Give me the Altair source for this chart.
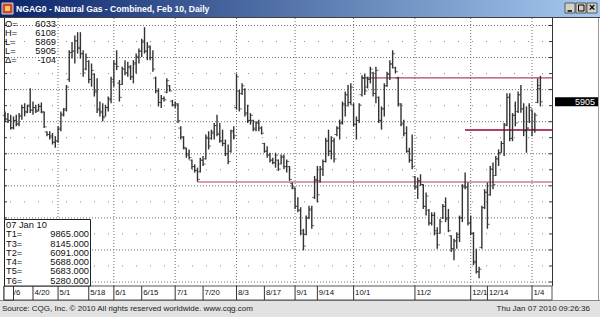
import altair as alt
import pandas as pd

# ---------------- data ----------------
highs = [5830,5817,5804,5791,5804,5817,5882,5894,5882,6010,
         5907,5882,5890,5900,5830,5675,5675,5662,5637,5714,
         5830,5856,6036,6307,6371,6423,6448,6448,6307,6281,
         6230,6204,6126,6088,5907,5894,5882,5946,6101,6230,
         6307,6075,6178,6230,6217,6191,6230,6281,6320,6397,
         6487,6371,6345,6307,6101,6010,5959,5946,6088,6036,
         5920,5907,5894,5714,5637,5547,5534,5456,5418,5392,
         5469,5482,5650,5675,5688,5740,5804,5740,5688,5611,
         5572,5688,5714,6126,5997,6049,6010,5882,5817,5766,
         5753,5766,5714,5585,5559,5508,5469,5508,5456,5495,
         5495,5456,5405,5276,5237,5160,5083,4915,5018,5095,
         5095,5327,5405,5405,5456,5624,5688,5637,5624,5714,
         5766,5907,5985,6036,6049,5894,5791,5894,6113,6126,
         6101,6178,6139,6178,5946,5869,6049,6139,6229,6307,
         6178,6101,5894,5766,5714,5547,5650,5327,5315,5340,
         5263,5198,5070,5044,5044,4928,4992,5108,5160,5070,
         4864,4838,4889,5018,5263,5353,5276,5018,4889,4760,
         4619,5095,5224,5276,5405,5431,5482,5534,5598,5740,
         5972,5972,5817,5907,5985,6036,5894,5869,5894,5846,
         5820,6088,6108]
lows = [5753,5740,5688,5690,5714,5714,5766,5791,5817,5817,
        5804,5817,5830,5817,5701,5637,5611,5572,5547,5585,
        5675,5791,5830,6062,6242,6204,6281,6242,6101,6152,
        6049,6023,5946,5817,5791,5753,5791,5830,5894,6023,
        6152,5907,6036,6113,6101,6075,6049,6126,6204,6255,
        6281,6230,6230,6139,5972,5869,5856,5907,5972,5985,
        5869,5856,5740,5611,5534,5469,5456,5379,5353,5282,
        5353,5405,5456,5534,5610,5611,5637,5585,5559,5482,
        5418,5508,5611,5843,5830,5959,5791,5740,5727,5675,
        5675,5675,5650,5508,5469,5431,5418,5392,5366,5418,
        5379,5353,5289,5224,5070,5044,4864,4747,4864,4992,
        4915,5147,5121,5276,5327,5431,5482,5456,5431,5637,
        5611,5727,5791,5869,5882,5714,5611,5740,5946,5959,
        6010,6049,5946,5894,5740,5688,5791,6023,6075,6165,
        6126,5869,5714,5637,5508,5431,5379,5224,5147,5250,
        5070,5018,4941,4941,4864,4760,4877,4992,4967,4889,
        4735,4670,4760,4812,4967,5224,4941,4864,4632,4567,
        4530,4760,5070,4915,5173,5224,5327,5405,5508,5482,
        5714,5598,5598,5714,5817,5820,5637,5508,5740,5637,
        5663,5894,5869]
opens = [5800,5770,5760,5705,5760,5735,5790,5860,5830,5880,
         5840,5860,5840,5870,5820,5670,5650,5640,5590,5600,
         5690,5800,5850,6080,6290,6300,6380,6330,6280,6160,
         6220,6080,6120,5990,5850,5830,5790,5860,5930,6060,
         6200,6050,6040,6160,6130,6170,6100,6200,6250,6300,
         6380,6300,6330,6250,6090,5990,5900,5930,5980,6030,
         5910,5880,5880,5700,5630,5540,5500,5450,5400,5370,
         5360,5450,5460,5620,5620,5660,5720,5660,5600,5580,
         5500,5520,5680,5860,5990,5970,6000,5820,5760,5760,
         5700,5740,5700,5580,5520,5490,5450,5430,5450,5420,
         5470,5400,5400,5270,5230,5090,5060,4900,4870,5000,
         5060,5160,5290,5290,5380,5440,5600,5520,5600,5650,
         5700,5740,5880,5960,5900,5880,5730,5760,5960,6090,
         6020,6080,6130,5970,5940,5760,5850,6030,6120,6200,
         6170,6090,5880,5740,5660,5520,5450,5320,5240,5290,
         5260,5090,5060,4960,5020,4900,4880,5000,5090,5000,
         4860,4760,4820,4850,5000,5250,5240,4960,4880,4660,
         4580,4770,5080,5200,5180,5380,5330,5460,5510,5580,
         5730,5940,5620,5800,5830,5960,5850,5680,5700,5840,
         5690,5900,6033]
closes = [5770,5760,5700,5760,5730,5800,5860,5820,5870,5840,
          5860,5830,5870,5830,5710,5650,5630,5590,5600,5700,
          5810,5840,6020,6290,6300,6380,6320,6280,6130,6250,
          6080,6150,5980,5840,5820,5780,5860,5920,6080,6200,
          6180,5940,6160,6130,6180,6100,6210,6260,6300,6370,
          6300,6340,6250,6160,5990,5900,5930,5920,6070,5990,
          5880,5890,5760,5630,5550,5490,5470,5400,5370,5300,
          5450,5420,5630,5560,5670,5720,5650,5600,5580,5500,
          5440,5670,5640,6100,5850,6030,5810,5760,5800,5690,
          5740,5700,5660,5520,5490,5450,5430,5490,5380,5480,
          5400,5440,5300,5240,5090,5060,4880,4780,5000,5070,
          4940,5300,5180,5380,5440,5600,5520,5600,5460,5700,
          5740,5890,5960,5900,6020,5730,5760,5880,6090,5990,
          6080,6160,5970,6150,5760,5850,6030,6120,6200,6280,
          6140,5890,5730,5660,5520,5450,5400,5240,5290,5260,
          5090,5170,4960,5020,4880,4790,4970,5090,4990,4900,
          4760,4820,4870,5000,5240,5240,4960,4880,4650,4580,
          4600,5080,5200,4950,5380,5260,5460,5500,5580,5720,
          5940,5620,5800,5740,5960,5850,5680,5700,5860,5690,
          5800,6009,5905]

date_labels = ["4/6", "4/20", "5/1", "5/18", "6/1", "6/15", "7/1", "7/20", "8/3",
               "8/17", "9/1", "9/14", "10/1", "11/2", "12/1", "12/14", "1/4"]
date_label_bar = [1, 10, 19, 30, 39, 49, 61, 71, 83, 93, 104, 112, 125, 147, 167, 173, 189]
month_grid_bar = [19, 39, 61, 83, 104, 125, 147, 167, 189]

price_labels = [4500, 4750, 5000, 5250, 5500, 5750, 6000, 6250, 6500]
price_mid = [4625, 4875, 5125, 5375, 5625, 5875, 6125, 6375]

info_names = ["O=", "H=", "L=", "L=", "\u0394="]
info_values = ["6033", "6108", "5869", "5905", "-104"]
last_price = 5905

level_names = ["T1", "T3", "T2", "T4", "T5", "T6"]
level_values = [9865.0, 8145.0, 6091.0, 5688.0, 5683.0, 5280.0]
line_names = ["T2", "T4", "T5", "T6"]
line_start_bar = [128, 165, 165, 69]

title_text = "NGAG0 - Natural Gas - Combined, Feb 10, Daily"
box_date = "07 Jan 10"
footer_left = "Source: CQG, Inc. \u00a9 2010 All rights reserved worldwide. www.cqg.com"
footer_right = "Thu Jan 07 2010 09:26:36"

# ---------------- layout ----------------
W, H = 548, 268
OX, OY = 4, 18          # plot origin in page pixels
FONT = "Liberation Sans"
BAR = "#333333"
GRID = "#6e6e6e"
xs = alt.Scale(domain=[-0.402, 196.16], nice=False, zero=False)
ys = alt.Scale(domain=[4469, 6558.5], nice=False, zero=False)

one = pd.DataFrame({"k": [0]})


def prect(x1, y1, x2, y2, **kw):
    return alt.Chart(one).mark_rect(**kw).encode(
        x=alt.value(x1 - OX), x2=alt.value(x2 - OX),
        y=alt.value(y1 - OY), y2=alt.value(y2 - OY))


def ptext(txt, x, y, **kw):
    kw.setdefault("font", FONT)
    return alt.Chart(one).mark_text(**kw).encode(
        x=alt.value(x - OX), y=alt.value(y - OY), text=alt.value(txt))


def prule(x1, y1, x2, y2, **kw):
    return alt.Chart(one).mark_rule(**kw).encode(
        x=alt.value(x1 - OX), x2=alt.value(x2 - OX),
        y=alt.value(y1 - OY), y2=alt.value(y2 - OY))


bars = pd.DataFrame({"i": list(range(len(highs))), "h": highs, "l": lows,
                     "o": opens, "c": closes})

yaxis = alt.Axis(orient="right", values=price_labels, grid=False, domain=False,
                 ticks=False, labelAlign="right", labelPadding=42, labelFontSize=9,
                 labelFont=FONT, labelColor="#333333", labelOverlap=False,
                 labelBaseline="middle", title=None)

hl = alt.Chart(bars).mark_rule(color=BAR, strokeWidth=1.4).encode(
    x=alt.X("i:Q", scale=xs, axis=None),
    y=alt.Y("l:Q", scale=ys, axis=yaxis),
    y2="h:Q")
otick = alt.Chart(bars).mark_tick(orient="horizontal", size=2.4, thickness=1,
                                  xOffset=-1.3, color=BAR).encode(
    x=alt.X("i:Q", scale=xs, axis=None), y=alt.Y("o:Q", scale=ys, axis=None))
ctick = alt.Chart(bars).mark_tick(orient="horizontal", size=2.4, thickness=1,
                                  xOffset=1.3, color=BAR).encode(
    x=alt.X("i:Q", scale=xs, axis=None), y=alt.Y("c:Q", scale=ys, axis=None))

hgrid = alt.Chart(pd.DataFrame({"p": price_labels})).mark_rule(
    color=GRID, strokeDash=[1, 2], strokeWidth=1).encode(
    y=alt.Y("p:Q", scale=ys, axis=None), x=alt.value(1), x2=alt.value(W - 1))
vgrid = alt.Chart(pd.DataFrame({"g": month_grid_bar})).mark_rule(
    color=GRID, strokeDash=[1, 2], strokeWidth=1).encode(
    x=alt.X("g:Q", scale=xs, axis=None), y=alt.value(0), y2=alt.value(H))
mid_dots = alt.Chart(pd.DataFrame({"m": price_mid})).mark_rule(
    color="#8a8a8a", strokeDash=[1, 13], strokeWidth=1).encode(
    y=alt.Y("m:Q", scale=ys, axis=None), x=alt.value(6), x2=alt.value(W))

tick_vals = pd.DataFrame({"t": price_labels + price_mid})
lticks = alt.Chart(tick_vals).mark_rule(color="#333", strokeWidth=1).encode(
    y=alt.Y("t:Q", scale=ys, axis=None), x=alt.value(0), x2=alt.value(3))
rticks = alt.Chart(tick_vals).mark_rule(color="#333", strokeWidth=1).encode(
    y=alt.Y("t:Q", scale=ys, axis=None), x=alt.value(W - 3), x2=alt.value(W))

lines_df = pd.DataFrame({"name": line_names, "s": line_start_bar,
                         "v": [level_values[level_names.index(n)] for n in line_names]})
tlines = alt.Chart(lines_df).mark_rule(color="#b0406a", strokeWidth=1.2).encode(
    x=alt.X("s:Q", scale=xs, axis=None), x2=alt.value(W),
    y=alt.Y("v:Q", scale=ys, axis=None))

# x label row
label_df = pd.DataFrame({"t": date_labels, "b": date_label_bar})
row_bg = prect(4, 286, 552, 300, fill="white", stroke="#555", strokeWidth=1)
seps = alt.Chart(label_df).mark_rule(color="#333", strokeWidth=1).encode(
    x=alt.X("b:Q", scale=xs, axis=None), y=alt.value(H), y2=alt.value(H + 14))
xlabels = alt.Chart(label_df).mark_text(align="left", baseline="middle", dx=1.5,
                                        fontSize=7.8, font=FONT, color="#111").encode(
    x=alt.X("b:Q", scale=xs, axis=None), y=alt.value(H + 7), text="t:N")
corner = prect(4, 286, 13.5, 300, fill="white", stroke="#333", strokeWidth=1)

# frame pieces
footer_bg = prect(0, 300, 600, 317, fill="#e2e2e2")
footer_line = prule(0, 300.5, 600, 300.5, color="#888", strokeWidth=1)
title_bg = prect(0, 0, 600, 17, fill={"gradient": "linear", "x1": 0, "x2": 1, "y1": 0, "y2": 0,
                                    "stops": [{"offset": 0, "color": "#0a246a"},
                                              {"offset": 1, "color": "#a6caf0"}]})
top_line = prule(0, 17.5, 600, 17.5, color="#404040", strokeWidth=1)
left_line = prule(4.5, 17, 4.5, 286, color="#333", strokeWidth=1)
right_line = prule(552.5, 17, 552.5, 286, color="#333", strokeWidth=1)
right_frame = prule(598.5, 17, 598.5, 300, color="#999", strokeWidth=1)
icon = prect(2, 3, 13, 14, fill="#c8463c", stroke="#ffffff", strokeWidth=0.8)
icon2 = prect(5, 6, 10, 11, fill="#f2d04a")
title = ptext(title_text, 16, 8.8, align="left", baseline="middle", fontSize=8.6,
              fontWeight="bold", color="white")
btns = [prect(x, 3, x + 10, 13, fill="#d4d0c8", stroke="#404040", strokeWidth=0.8)
        for x in (565, 576, 587)]
b_min = prule(567.5, 11, 572, 11, color="#000", strokeWidth=1.5)
b_max = prect(578.5, 5, 584, 11, fill="none", stroke="#000", strokeWidth=1)
b_x = ptext("\u00d7", 592, 8.3, align="center", baseline="middle", fontSize=11,
            fontWeight="bold", color="#000")

# info block (top left), one text per row
info_layers = []
for k, (nm, vl) in enumerate(zip(info_names, info_values)):
    yy = 23.5 + 9.0 * k
    info_layers.append(ptext(nm, 5, yy, align="left", baseline="middle",
                             fontSize=9.3, color="#111"))
    info_layers.append(ptext(vl, 56, yy, align="right", baseline="middle",
                             fontSize=9.3, color="#111"))

# level box (bottom left)
tbox = prect(4.5, 219.5, 90.5, 286, fill="white", stroke="#222", strokeWidth=1)
box_layers = [tbox, ptext(box_date, 6, 225, align="left", baseline="middle",
                          fontSize=9.3, color="#111")]
for k, (nm, vl) in enumerate(zip(level_names, level_values)):
    yy = 234.3 + 9.25 * k
    box_layers.append(ptext(nm + "=", 6, yy, align="left", baseline="middle",
                            fontSize=9.3, color="#111"))
    box_layers.append(ptext(f"{vl:.3f}", 89, yy, align="right", baseline="middle",
                            fontSize=9.3, color="#111"))

# last price marker
last_box = alt.Chart(one).mark_rect(color="black", yOffset=-4.5, y2Offset=4.5).encode(
    x=alt.value(555 - OX), x2=alt.value(598 - OX),
    y=alt.datum(last_price, scale=ys), y2=alt.datum(last_price))
last_txt = alt.Chart(one).mark_text(align="right", baseline="middle", fontSize=9,
                                    font=FONT, color="white").encode(
    x=alt.value(595 - OX), y=alt.datum(last_price, scale=ys),
    text=alt.value(str(last_price)))

foot_l = ptext(footer_left, 2, 309, align="left", baseline="middle", fontSize=8, color="#222")
foot_r = ptext(footer_right, 590, 309, align="right", baseline="middle", fontSize=8, color="#222")

layers = ([footer_bg, footer_line, hgrid, mid_dots, vgrid, tlines, hl, otick, ctick,
           lticks, rticks, left_line, right_line, right_frame,
           row_bg, seps, xlabels, corner,
           title_bg, top_line, icon, icon2, title] + btns + [b_min, b_max, b_x]
          + info_layers + box_layers + [last_box, last_txt, foot_l, foot_r])

chart = alt.layer(*layers).properties(
    width=W, height=H,
    padding={"left": OX, "top": OY, "right": 600 - OX - W, "bottom": 317 - OY - H},
    autosize=alt.AutoSizeParams(type="none"),
    background="white",
).configure_view(stroke=None, fill="white")

chart.save("out.html", embed_options={"renderer": "svg", "actions": False})
